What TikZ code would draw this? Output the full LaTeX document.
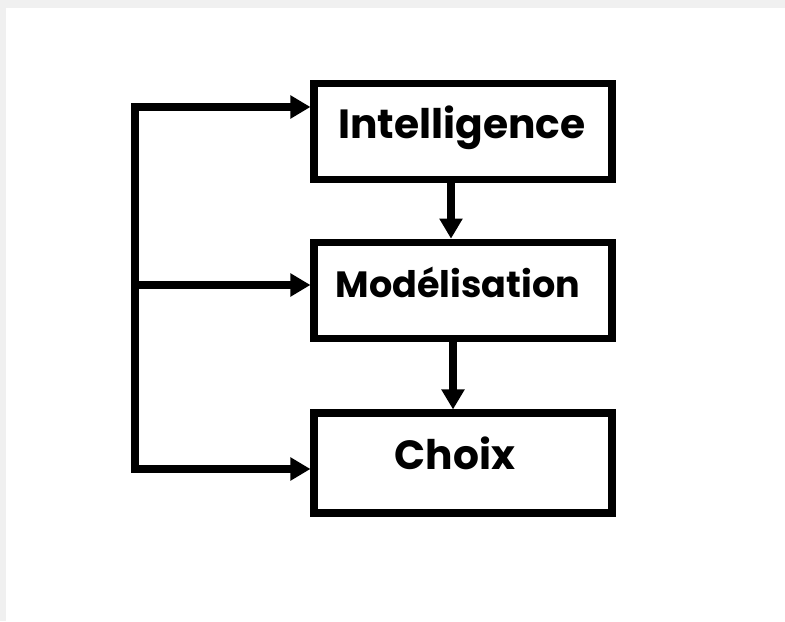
\documentclass[tikz,border=0pt]{standalone}
\usepackage{fontspec}
\setmainfont{Poppins}
\usetikzlibrary{arrows.meta}

\begin{document}
\begin{tikzpicture}[line width=5pt,
        box/.style={draw, minimum width=7.45cm, minimum height=2.4cm, inner sep=0pt, text height=0.8cm, text depth=0.45cm, font=\bfseries\fontsize{29}{29}\selectfont},
        flow/.style={-{Triangle[length=5mm,width=5.5mm]}}]
        % page and grey edge
        \fill[gray!12] (0,0) rectangle (19.625,15.525);
        \fill[white] (0.15,0) rectangle (19.625,15.325);
        \useasboundingbox (0,0) rectangle (19.625,15.525);
        \node[box] (intel) at (11.575,12.2375) {Intelligence\hspace*{0.05cm}};
        \node[box, font=\bfseries\fontsize{26}{26}\selectfont] (model) at (11.575,8.27) {Modélisation\hspace*{0.25cm}};
        \node[box, minimum height=2.5cm] (choix) at (11.575,3.95) {Choix\hspace*{0.4cm}};
        \coordinate (top) at (3.375,12.85);%loop top
        \coordinate (mid) at (3.375,8.4);
        \coordinate (bot) at (3.375,3.8);%loop bottom
        \draw [flow] (bot)--(top)--(top -| intel.west);
        \draw [flow] (top)--(bot)--(bot -| choix.west);
        \draw [flow] (mid)--(mid -| model.west);
        \draw [flow] ([xshift=-3mm]intel.south)--([xshift=-3mm]intel.south |- model.north);
        \draw [flow] ([xshift=-2.5mm]model.south)--([xshift=-2.5mm]model.south |- choix.north);
\end{tikzpicture}
\end{document}
